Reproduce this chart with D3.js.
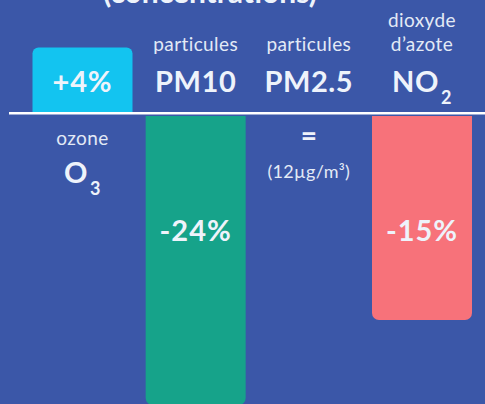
<!DOCTYPE html>
<html>
<head>
<meta charset="utf-8">
<script src="https://cdn.jsdelivr.net/npm/d3@7"></script>
<style>
  html, body { margin: 0; padding: 0; background: #3b57a8; }
  svg { display: block; }
  text { font-family: Lato, "Open Sans", sans-serif; fill: #eef3fb; }
</style>
</head>
<body>
<svg id="chart" width="485" height="404"></svg>
<script>
// ---- data ----
const title = "(concentrations)";
const categories = ["O3", "PM10", "PM2.5", "NO2"];
const nameLines = [["ozone"], ["particules"], ["particules"], ["dioxyde", "d\u2019azote"]];
const formulaMain = ["O", "PM10", "PM2.5", "NO"];
const formulaSub = ["3", "", "", "2"];
const values = [4, -24, 0, -15];
const valueLabels = ["+4%", "-24%", "=", "-15%"];
const notes = ["", "", "(12\u00b5g/m\u00b3)", ""];
const colors = ["#13c4f0", "#16a38a", "none", "#f7727a"];

// ---- layout ----
const W = 485, H = 404;
const svg = d3.select("#chart");
svg.append("rect").attr("width", W).attr("height", H).attr("fill", "#3b57a8");

const x = d3.scalePoint().domain(categories).range([82.5, 422]);
const barW = 100;
// value scale (infographic, piecewise linear)
const y = d3.scaleLinear().domain([-24, -15, 0, 4]).range([405, 320, 115.5, 47.5]);
const y0 = y(0);

// title (cut at top)
svg.append("text").attr("x", 210).attr("y", 3).attr("text-anchor", "middle")
  .attr("font-size", 30).attr("font-weight", 700).text(title);

function roundedBar(x0, x1, yTop, yBot, r, roundTop) {
  const p = d3.path();
  if (roundTop) {
    p.moveTo(x0, yBot);
    p.lineTo(x0, yTop + r);
    p.arcTo(x0, yTop, x0 + r, yTop, r);
    p.lineTo(x1 - r, yTop);
    p.arcTo(x1, yTop, x1, yTop + r, r);
    p.lineTo(x1, yBot);
  } else {
    p.moveTo(x0, yTop);
    p.lineTo(x0, yBot - r);
    p.arcTo(x0, yBot, x0 + r, yBot, r);
    p.lineTo(x1 - r, yBot);
    p.arcTo(x1, yBot, x1, yBot - r, r);
    p.lineTo(x1, yTop);
  }
  p.closePath();
  return p.toString();
}

categories.forEach((c, i) => {
  const v = values[i];
  const cx = x(c);
  const x0 = cx - barW / 2, x1 = cx + barW / 2;
  if (v > 0) {
    svg.append("path").attr("d", roundedBar(x0, x1, y(v), y0 - 2, 6, true)).attr("fill", colors[i]);
  } else if (v < 0) {
    svg.append("path").attr("d", roundedBar(x0, x1, y0 + 0.5, y(v), 7, false)).attr("fill", colors[i]);
  }
});

// baseline
svg.append("line").attr("x1", 9).attr("x2", W).attr("y1", 113.2).attr("y2", 113.2)
  .attr("stroke", "#ffffff").attr("stroke-width", 2.6);

categories.forEach((c, i) => {
  const v = values[i];
  const cx = x(c);
  // name + formula: above baseline when bar goes down or zero, below when bar goes up
  const above = v <= 0;
  const formulaBase = above ? 91.5 : 183;
  const names = nameLines[i];
  const nameBase = above ? 50.5 : 145;
  names.forEach((t, k) => {
    svg.append("text").attr("x", cx).attr("y", nameBase - (names.length - 1 - k) * 24)
      .attr("text-anchor", "middle").attr("font-size", 19).attr("font-weight", 400)
      .attr("letter-spacing", 0.4).style("fill", "#e3eaf6")
      .text(t);
  });
  const fsize = 29;
  const ft = svg.append("text").attr("x", cx).attr("y", formulaBase)
    .attr("text-anchor", "middle").attr("font-size", fsize).attr("font-weight", 700)
    .attr("letter-spacing", 0.6);
  ft.append("tspan").text(formulaMain[i]);
  if (formulaSub[i]) {
    ft.append("tspan").attr("font-size", 18).attr("dx", 2).attr("dy", 12).text(formulaSub[i]);
  }
  // value label
  if (v > 0) {
    svg.append("text").attr("x", cx).attr("y", 91.5).attr("text-anchor", "middle")
      .attr("font-size", 29).attr("font-weight", 700).attr("letter-spacing", 0.8).text(valueLabels[i]);
  } else if (v < 0) {
    svg.append("text").attr("x", cx).attr("y", 240.5).attr("text-anchor", "middle")
      .attr("font-size", 29).attr("font-weight", 700).attr("letter-spacing", 1).text(valueLabels[i]);
  } else {
    svg.append("text").attr("x", cx).attr("y", 146).attr("text-anchor", "middle")
      .attr("font-size", 28).attr("font-weight", 700).text(valueLabels[i]);
    svg.append("text").attr("x", cx).attr("y", 178).attr("text-anchor", "middle")
      .attr("font-size", 18).attr("font-weight", 400).attr("letter-spacing", 0.3)
      .style("fill", "#e3eaf6").text(notes[i]);
  }
});
</script>
</body>
</html>
